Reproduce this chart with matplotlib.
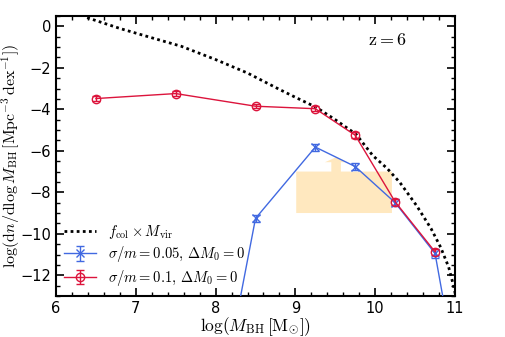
import numpy as np
import matplotlib
matplotlib.use("Agg")
import matplotlib.pyplot as plt
from matplotlib.patches import Polygon
from matplotlib.ticker import MultipleLocator

plt.rcParams['mathtext.fontset'] = 'cm'
plt.rcParams['font.family'] = ['DejaVu Sans']

# f_col x M_vir curve
curve_x = [6.39, 6.8, 7.2, 7.57, 8.0, 8.4, 8.80, 9.0, 9.26, 9.5, 9.76, 9.97, 10.15, 10.31, 10.52, 10.7, 10.82, 10.92, 10.97, 11.01]
curve_y = [0.42, -0.10, -0.55, -0.96, -1.60, -2.25, -3.04, -3.42, -3.90, -4.50, -5.20, -6.23, -6.85, -7.53, -8.65, -9.75, -10.65, -11.6, -12.33, -13.0]

# sigma/m = 0.05 (blue)
blue_x = [8.0, 8.5, 9.25, 9.75, 10.25, 10.75, 11.0]
blue_y = [-19.3, -9.26, -5.82, -6.76, -8.50, -10.95, -16.3]
blue_err = [0.15, 0.15, 0.17, 0.17, 0.17, 0.2, 0.2]

# sigma/m = 0.1 (red)
red_x = [6.5, 7.5, 8.5, 9.25, 9.75, 10.25, 10.75]
red_y = [-3.48, -3.24, -3.85, -3.97, -5.25, -8.46, -10.87]
red_err = [0.1, 0.1, 0.1, 0.13, 0.15, 0.15, 0.15]

# shaded constraint box with upward arrow
box_x = [9.01, 10.21]
box_y = [-9.0, -7.0]
arrow_x = [9.45, 9.57, 9.37, 9.62]   # body left/right, head left/right
arrow_y = [-6.55, -6.31]             # head base, tip

fig = plt.figure(figsize=(5.06, 3.37), dpi=100)
ax = fig.add_axes([0.1107, 0.1217, 0.7885, 0.8308])

ax.plot(curve_x, curve_y, color='black', lw=2.0, linestyle=(0, (1, 1.2)),
        label=r'$f_{\rm col}\times M_{\rm vir}$', zorder=3)

ax.errorbar(blue_x, blue_y, yerr=blue_err, color='#4169E1', marker='x', ms=6,
            mew=1.0, lw=1.0, capsize=3, elinewidth=1.0,
            label=r'$\sigma/m = 0.05,\, \Delta M_0 = 0$', zorder=4)
ax.errorbar(red_x, red_y, yerr=red_err, color='#DC143C', marker='o', ms=6,
            mfc='none', mew=1.0, lw=1.0, capsize=3, elinewidth=1.0,
            label=r'$\sigma/m = 0.1,\, \Delta M_0 = 0$', zorder=4)

poly = [(box_x[0], box_y[0]), (box_x[1], box_y[0]), (box_x[1], box_y[1]),
        (arrow_x[1], box_y[1]), (arrow_x[1], arrow_y[0]), (arrow_x[3], arrow_y[0]),
        ((arrow_x[0] + arrow_x[1]) / 2, arrow_y[1]),
        (arrow_x[2], arrow_y[0]), (arrow_x[0], arrow_y[0]), (arrow_x[0], box_y[1]),
        (box_x[0], box_y[1])]
ax.add_patch(Polygon(poly, closed=True, facecolor='orange', alpha=0.25,
                     edgecolor='none', zorder=1))

ax.set_xlim(6, 11)
ax.set_ylim(-13, 0.5)
ax.xaxis.set_major_locator(MultipleLocator(1))
ax.xaxis.set_minor_locator(MultipleLocator(0.2))
ax.yaxis.set_major_locator(MultipleLocator(2))
ax.yaxis.set_minor_locator(MultipleLocator(0.5))
ax.tick_params(which='both', direction='in', top=True, right=True, labelsize=10.5)
ax.tick_params(which='major', length=6, width=1.2)
ax.tick_params(which='minor', length=3, width=1.0)
for s in ax.spines.values():
    s.set_linewidth(1.5)

ax.set_xlabel(r'$\log(M_{\rm BH}\,[{\rm M}_{\odot}])$', fontsize=12.5)
ax.xaxis.set_label_coords(0.5, -0.068)
ax.set_ylabel(r'$\log({\rm d}n/{\rm d}\log M_{\rm BH}\,[{\rm Mpc}^{-3}\,{\rm dex}^{-1}])$',
              fontsize=11.5)
ax.yaxis.set_label_coords(-0.085, 0.5)

ax.text(0.83, 0.915, r'${\rm z} = 6$', transform=ax.transAxes, fontsize=13,
        ha='center', va='center')

leg = ax.legend(loc='lower left', frameon=False, fontsize=10.5, handlelength=2.2,
                borderaxespad=0.15, labelspacing=0.25, handletextpad=0.8)

fig.savefig('out.png', dpi=100)
